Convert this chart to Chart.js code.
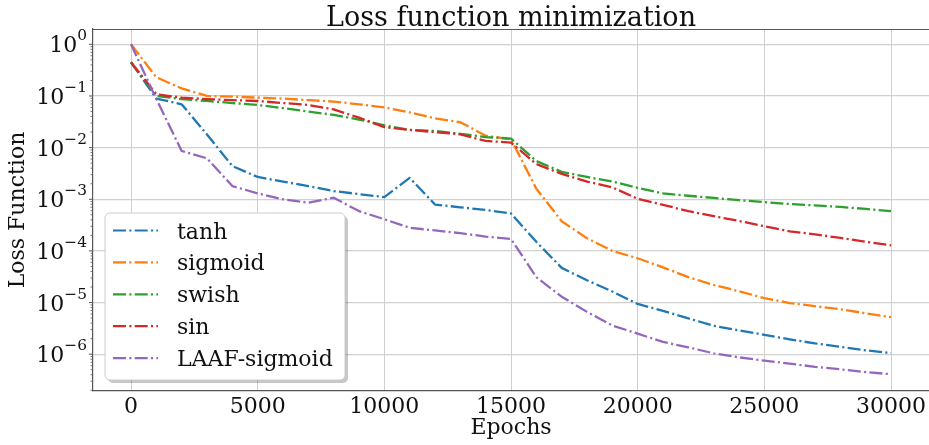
<!DOCTYPE html>
<html>
<head>
<meta charset="utf-8">
<title>Loss function minimization</title>
<script src="https://cdn.jsdelivr.net/npm/chart.js@4.4.1/dist/chart.umd.min.js"></script>
<style>
  html, body { margin: 0; padding: 0; background: #ffffff; }
  #wrap { width: 929px; height: 445px; }
</style>
</head>
<body>
<div id="wrap"><canvas id="lossChart" width="929" height="445"></canvas></div>
<script>
// training loss logged every 1000 epochs
const epochs = [0, 1000, 2000, 3000, 4000, 5000, 6000, 7000, 8000, 9000, 10000,
  11000, 12000, 13000, 14000, 15000, 16000, 17000, 18000, 19000, 20000,
  21000, 22000, 23000, 24000, 25000, 26000, 27000, 28000, 29000, 30000];

const activations = ['tanh', 'sigmoid', 'swish', 'sin', 'LAAF-sigmoid'];

const tanhLoss = [0.45, 0.089, 0.069, 0.018, 0.0044, 0.0027, 0.0022, 0.0018, 0.00144, 0.00126, 0.0011,
  0.0026, 0.00079, 0.0007, 0.00062, 0.00053, 1.5e-4, 4.7e-5, 2.7e-5, 1.64e-5, 9.4e-6,
  6.9e-6, 4.95e-6, 3.55e-6, 2.9e-6, 2.37e-6, 1.94e-6, 1.62e-6, 1.39e-6, 1.19e-6, 1.05e-6];

const sigmoidLoss = [1.0, 0.23, 0.14, 0.1, 0.097, 0.093, 0.089, 0.083, 0.078, 0.069, 0.06,
  0.048, 0.037, 0.031, 0.017, 0.0145, 0.0016, 3.76e-4, 1.76e-4, 1.0e-4, 7.2e-5,
  4.8e-5, 3.1e-5, 2.2e-5, 1.66e-5, 1.22e-5, 9.8e-6, 8.5e-6, 7.4e-6, 6.2e-6, 5.2e-6];

const swishLoss = [0.45, 0.1, 0.087, 0.08, 0.073, 0.067, 0.058, 0.05, 0.043, 0.035, 0.027,
  0.022, 0.021, 0.0185, 0.016, 0.015, 0.0055, 0.0034, 0.0027, 0.0022, 0.00167,
  0.0013, 0.00117, 0.00106, 0.00096, 0.00088, 0.00081, 0.00076, 0.00071, 0.00065, 0.00059];

const sinLoss = [0.45, 0.108, 0.093, 0.087, 0.083, 0.08, 0.073, 0.067, 0.055, 0.038, 0.025,
  0.022, 0.02, 0.018, 0.0135, 0.0125, 0.0048, 0.0031, 0.0022, 0.0017, 0.00102,
  0.00078, 0.00059, 0.00047, 0.00038, 0.0003, 0.00024, 0.00021, 1.78e-4, 1.51e-4, 1.28e-4];

const laafSigmoidLoss = [1.0, 0.087, 0.0086, 0.0062, 0.0018, 0.0013, 0.001, 0.00086, 0.00107, 0.00059, 0.00041,
  0.00028, 0.00025, 0.00022, 0.00019, 0.00017, 3.1e-5, 1.3e-5, 6.6e-6, 3.6e-6, 2.5e-6,
  1.73e-6, 1.36e-6, 1.04e-6, 8.7e-7, 7.5e-7, 6.6e-7, 5.7e-7, 5.1e-7, 4.5e-7, 4.1e-7];

const xTickValues = [0, 5000, 10000, 15000, 20000, 25000, 30000];
const yTickValues = [1e-6, 1e-5, 1e-4, 1e-3, 1e-2, 1e-1, 1];

const seriesLoss = [tanhLoss, sigmoidLoss, swishLoss, sinLoss, laafSigmoidLoss];
const seriesColors = ['#1f77b4', '#ff7f0e', '#2ca02c', '#d62728', '#9467bd'];

const SERIF = '"DejaVu Serif", "Liberation Serif", serif';
const TEXT_COLOR = '#111111';
const SPINE_COLOR = '#555555';
const dashDot = [13, 3.3, 2.1, 3.3];

// title, top spine, y tick labels with exponents, minor ticks, legend
const decorations = {
  id: 'decorations',
  afterDraw(chart) {
    const ctx = chart.ctx;
    const area = chart.chartArea;
    const yScale = chart.scales.y;
    ctx.save();

    // top spine
    ctx.strokeStyle = SPINE_COLOR;
    ctx.lineWidth = 1.2;
    ctx.beginPath();
    ctx.moveTo(area.left, area.top + 0.5);
    ctx.lineTo(area.right, area.top + 0.5);
    ctx.stroke();

    // title
    ctx.fillStyle = TEXT_COLOR;
    ctx.font = '27px ' + SERIF;
    ctx.textAlign = 'center';
    ctx.textBaseline = 'alphabetic';
    ctx.fillText('Loss function minimization', (area.left + area.right) / 2, 26);

    // major ticks and labels on the log axis
    ctx.textAlign = 'left';
    yScale.ticks.forEach(t => {
      const py = yScale.getPixelForValue(t.value);
      ctx.strokeStyle = SPINE_COLOR;
      ctx.lineWidth = 1;
      ctx.beginPath();
      ctx.moveTo(area.left - 4, py);
      ctx.lineTo(area.left, py);
      ctx.stroke();

      const exp = Math.round(Math.log10(t.value));
      const sup = exp === 0 ? '0' : '\u2212' + (-exp);
      ctx.font = '15.4px ' + SERIF;
      const supW = ctx.measureText(sup).width;
      ctx.font = '22px ' + SERIF;
      const baseW = ctx.measureText('10').width;
      const xEnd = area.left - 6;
      ctx.fillText('10', xEnd - supW - baseW, py + 8);
      ctx.font = '15.4px ' + SERIF;
      ctx.fillText(sup, xEnd - supW, py - 4);
    });

    // minor ticks
    ctx.strokeStyle = SPINE_COLOR;
    ctx.lineWidth = 0.8;
    for (let e = -7; e <= 0; e++) {
      for (let k = 2; k <= 9; k++) {
        const v = k * Math.pow(10, e);
        if (v < yScale.min || v > yScale.max) continue;
        const py = yScale.getPixelForValue(v);
        ctx.beginPath();
        ctx.moveTo(area.left - 2.5, py);
        ctx.lineTo(area.left, py);
        ctx.stroke();
      }
    }

    // legend box with a soft drop shadow
    const bx = area.left + 12, bw = 240, bh = 167;
    const by = area.bottom - 11 - bh;
    const r = 5;
    const roundRect = (x, y, w, h) => {
      ctx.beginPath();
      ctx.moveTo(x + r, y);
      ctx.arcTo(x + w, y, x + w, y + h, r);
      ctx.arcTo(x + w, y + h, x, y + h, r);
      ctx.arcTo(x, y + h, x, y, r);
      ctx.arcTo(x, y, x + w, y, r);
      ctx.closePath();
    };
    ctx.fillStyle = 'rgba(0,0,0,0.22)';
    roundRect(bx + 3, by + 3, bw, bh);
    ctx.fill();
    ctx.fillStyle = '#ffffff';
    roundRect(bx, by, bw, bh);
    ctx.fill();
    ctx.strokeStyle = '#cccccc';
    ctx.lineWidth = 1;
    ctx.stroke();

    ctx.font = '22px ' + SERIF;
    ctx.textAlign = 'left';
    chart.data.datasets.forEach((ds, i) => {
      const ly = by + 17.5 + i * 31.9;
      ctx.strokeStyle = ds.borderColor;
      ctx.lineWidth = 2.2;
      ctx.setLineDash(dashDot);
      ctx.lineCap = 'butt';
      ctx.beginPath();
      ctx.moveTo(bx + 8, ly);
      ctx.lineTo(bx + 53, ly);
      ctx.stroke();
      ctx.setLineDash([]);
      ctx.fillStyle = TEXT_COLOR;
      ctx.fillText(ds.label, bx + 72, ly + 8);
    });

    ctx.restore();
  }
};

new Chart(document.getElementById('lossChart'), {
  type: 'line',
  data: {
    datasets: activations.map((name, i) => ({
      label: name,
      data: seriesLoss[i].map((v, j) => ({ x: epochs[j], y: v })),
      borderColor: seriesColors[i],
      borderWidth: 2.3,
      borderDash: dashDot,
      borderCapStyle: 'butt',
      borderJoinStyle: 'round',
      pointRadius: 0,
      tension: 0,
      fill: false,
      order: activations.length - i
    }))
  },
  options: {
    responsive: false,
    animation: false,
    layout: { padding: { top: 29, right: 0, bottom: 0, left: 0 } },
    plugins: {
      legend: { display: false },
      tooltip: { enabled: false },
      title: { display: false }
    },
    scales: {
      x: {
        type: 'linear',
        min: -1500,
        max: 31500,
        afterBuildTicks: s => { s.ticks = xTickValues.map(v => ({ value: v })); },
        afterFit: s => { s.height = 54; },
        grid: { color: '#d0d0d0', lineWidth: 1, drawTicks: false },
        border: { color: SPINE_COLOR, width: 1.2 },
        ticks: {
          font: { family: SERIF, size: 22 },
          color: TEXT_COLOR,
          padding: 3,
          maxRotation: 0,
          autoSkip: false,
          callback: v => String(v)
        },
        title: {
          display: true,
          text: 'Epochs',
          color: TEXT_COLOR,
          font: { family: SERIF, size: 22 },
          padding: { top: 0, bottom: 4 }
        }
      },
      y: {
        type: 'logarithmic',
        min: 1.94e-7,
        max: 1.98,
        afterBuildTicks: s => { s.ticks = yTickValues.map(v => ({ value: v })); },
        afterFit: s => { s.width = 93; },
        grid: { color: '#d0d0d0', lineWidth: 1.3, drawTicks: false },
        border: { color: SPINE_COLOR, width: 1.2 },
        ticks: { display: false },
        title: {
          display: true,
          text: 'Loss Function',
          color: TEXT_COLOR,
          font: { family: SERIF, size: 22 },
          padding: { top: 5, bottom: 0 }
        }
      }
    }
  },
  plugins: [decorations]
});
</script>
</body>
</html>
